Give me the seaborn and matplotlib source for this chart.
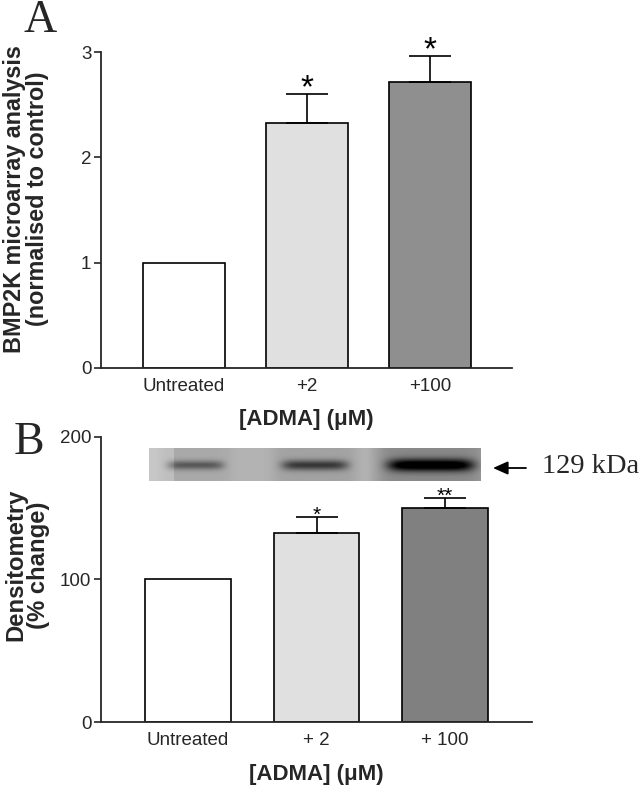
import numpy as np
import pandas as pd
import matplotlib
matplotlib.use("Agg")
import matplotlib.pyplot as plt
import seaborn as sns

# Panel A: microarray
cats_a = ["Untreated", "+2", "+100"]
vals_a = [1.0, 2.33, 2.72]
err_a = [0.0, 0.27, 0.24]
stars_a = ["", "*", "*"]
colors_a = ["#ffffff", "#e0e0e0", "#8f8f8f"]

# Panel B: densitometry
cats_b = ["Untreated", "+ 2", "+ 100"]
vals_b = [100, 132.3, 149.8]
err_b = [0, 11.2, 7.0]
stars_b = ["", "*", "**"]
colors_b = ["#ffffff", "#e0e0e0", "#808080"]

# western blot band strength per lane
band_strength = [0.45, 0.6, 0.95]

sns.set_style("ticks")
plt.rcParams['font.family'] = ['Liberation Sans', 'DejaVu Sans']

fig = plt.figure(figsize=(6.44, 7.88), dpi=100)


def bar_panel(ax, cats, vals, errs, stars, colors, ylim, yticks, ylabel, xlim,
              star_size, star_pad, ylab_x, ylab_y, xlab_y, ylab_size):
    df = pd.DataFrame({"cat": cats, "val": vals})
    sns.barplot(data=df, x="cat", y="val", hue="cat", palette=colors, legend=False,
                edgecolor="black", linewidth=1.2, width=0.667, ax=ax)
    idx = [i for i, e in enumerate(errs) if e > 0]
    ax.errorbar(idx, [vals[i] for i in idx],
                yerr=[[0] * len(idx), [errs[i] for i in idx]], fmt="none",
                ecolor="black", elinewidth=1.2, capsize=15.3, capthick=1.2)
    for i, s in enumerate(stars):
        if s:
            ax.text(i, vals[i] + errs[i] + star_pad, s, ha="center", va="center",
                    fontsize=star_size, color="black")
    ax.set_ylim(*ylim)
    ax.set_xlim(*xlim)
    ax.set_yticks(yticks)
    ax.set_xlabel("[ADMA] (\u03bcM)", fontsize=16, fontweight="bold")
    ax.set_ylabel(ylabel, fontsize=ylab_size, fontweight="bold", linespacing=1.0)
    ax.yaxis.set_label_coords(ylab_x, ylab_y)
    ax.xaxis.set_label_coords(0.5, xlab_y)
    ax.tick_params(axis="x", length=0, labelsize=13.5, pad=7)
    ax.tick_params(axis="y", length=5, width=1.2, labelsize=13.5, pad=2)
    sns.despine(ax=ax)
    for sp in ["left", "bottom"]:
        ax.spines[sp].set_linewidth(1.3)


ax_a = fig.add_axes([0.1568, 0.533, 0.638, 0.401])
bar_panel(ax_a, cats_a, vals_a, err_a, stars_a, colors_a, (0, 3), [0, 1, 2, 3],
          "BMP2K microarray analysis\n(normalised to control)", (-0.675, 2.667),
          24, 0.05, -0.127, 0.535, -0.13, 16.8)

ax_b = fig.add_axes([0.1568, 0.0834, 0.669, 0.3624])
bar_panel(ax_b, cats_b, vals_b, err_b, stars_b, colors_b, (0, 200), [0, 100, 200],
          "Densitometry\n(% change)", (-0.677, 2.674), 15, 1.5, -0.118, 0.55, -0.145, 17.2)

# panel letters
fig.text(0.037, 1 - 32 / 788, "A", fontsize=33, family="Liberation Serif",
         ha="left", va="baseline")
fig.text(0.021, 1 - 454 / 788, "B", fontsize=33, family="Liberation Serif",
         ha="left", va="baseline")

# blot image built from band strengths
w, h = 332, 33
xx = np.linspace(0, 1, w)
yy = np.linspace(0, 1, h)
img = np.full((h, w), 0.70)
centers = [0.14, 0.50, 0.85]
widths = [0.085, 0.10, 0.13]
for c, s, bw in zip(centers, band_strength, widths):
    prof_x = np.exp(-((xx - c) / bw) ** 6)
    prof_y = np.exp(-((yy - 0.52) / (0.10 + 0.10 * s)) ** 2)
    img -= s * 0.7 * np.outer(prof_y, prof_x)
    lane = np.exp(-((xx - c) / (bw * 1.3)) ** 8)
    img -= 0.18 * s ** 2 * np.outer(np.ones(h), lane)
img[:, :25] += 0.08
ax_blot = fig.add_axes([149 / 644, 1 - 481 / 788, 332 / 644, 33 / 788])
ax_blot.imshow(img, cmap="gray", vmin=0, vmax=1, aspect="auto", interpolation="bilinear")
ax_blot.axis("off")

fig.patches.append(matplotlib.patches.FancyArrowPatch(
    (526 / 644, 1 - 468 / 788), (493 / 644, 1 - 468 / 788), transform=fig.transFigure,
    arrowstyle="-|>,head_length=0.9,head_width=0.4", mutation_scale=10,
    color="black", linewidth=1.3, shrinkA=0, shrinkB=0))
fig.text(542 / 644, 1 - 473 / 788, "129 kDa", fontsize=20.5, family="Liberation Serif",
         ha="left", va="baseline")

fig.savefig("out.png", dpi=100)
